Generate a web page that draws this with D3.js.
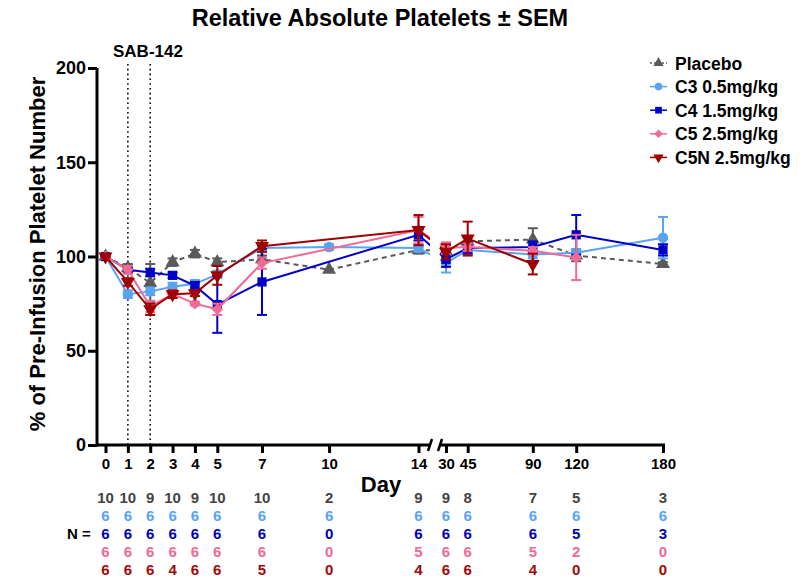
<!DOCTYPE html>
<html>
<head>
<meta charset="utf-8">
<script src="https://cdn.jsdelivr.net/npm/d3@7"></script>
<style>
  body { margin: 0; background: #fff; }
  svg text { font-family: "Liberation Sans", Arial, sans-serif; font-weight: bold; }
</style>
</head>
<body>
<div id="chart"></div>
<script>
// days sampled
let days = [0, 1, 2, 3, 4, 5, 7, 10, 14, 30, 45, 90, 120, 180];

let placebo    = [100, 94, 86, 97, 101.5, 97, 98.5, 93, 103.5, 103, 108, 109, 100.5, 96];
let placeboSem = [0.5, 2, 10, 2, 2, 2, 2, 0, 2, 3, 2, 6, 3, 1];
let c3    = [100, 80, 81.5, 84, 85.5, 90.5, 104.5, 105, 104.5, 96.5, 103.5, 101, 102, 110];
let c3Sem = [0.5, 2, 2, 2, 2, 2, 2, 1.5, 2, 5, 2, 2, 2, 11];
let c4    = [100, 93, 91.5, 90, 84.5, 74.5, 86.5, null, 111.5, 98.5, 104.5, 105, 111.5, 103.5];
let c4Sem = [1, 1.5, 2, 1.5, 2, 15, 17.5, null, 3, 4, 3, 3, 10.5, 3];
let c5    = [100, 93, 73.5, 80, 75, 72, 96.5, null, 114, 104.5, 105, 103, 99.5, null];
let c5Sem = [1, 2, 3, 2, 1, 3, 3, null, 7, 3, 2, 2, 12, null];
let c5n    = [100, 86.5, 72, 80, 80.5, 90, 105.5, null, 114, 102.5, 109.5, 96, null, null];
let c5nSem = [0.5, 2, 3, 2, 1.5, 5, 3, null, 8, 4, 9, 5.5, null, null];

let nPlacebo = [10, 10, 9, 10, 9, 10, 10, 2, 9, 9, 8, 7, 5, 3];
let nC3      = [6, 6, 6, 6, 6, 6, 6, 6, 6, 6, 6, 6, 6, 6];
let nC4      = [6, 6, 6, 6, 6, 6, 6, 0, 6, 6, 6, 6, 5, 3];
let nC5      = [6, 6, 6, 6, 6, 6, 6, 0, 5, 6, 6, 5, 2, 0];
let nC5N     = [6, 6, 6, 4, 6, 6, 5, 0, 4, 6, 6, 4, 0, 0];

let yTicks = [0, 50, 100, 150, 200];

let series = [
    { name: 'Placebo',      vals: placebo, sem: placeboSem, n: nPlacebo, color: '#5a5a5a', ncolor: '#444444', sym: d3.symbolTriangle, rot: 0,   dash: '5,4' },
    { name: 'C3 0.5mg/kg',  vals: c3,      sem: c3Sem,      n: nC3,      color: '#58a4f2', ncolor: '#58a4f2', sym: d3.symbolCircle,   rot: 0,   dash: null },
    { name: 'C4 1.5mg/kg',  vals: c4,      sem: c4Sem,      n: nC4,      color: '#0000c8', ncolor: '#0000b4', sym: d3.symbolSquare,   rot: 0,   dash: null },
    { name: 'C5 2.5mg/kg',  vals: c5,      sem: c5Sem,      n: nC5,      color: '#f06a94', ncolor: '#f06a94', sym: d3.symbolDiamond2, rot: 0, dash: null },
    { name: 'C5N 2.5mg/kg', vals: c5n,     sem: c5nSem,     n: nC5N,     color: '#a00000', ncolor: '#a00a0a', sym: d3.symbolTriangle, rot: 180, dash: null }
];

let W = 809, H = 579;
let svg = d3.select('#chart').append('svg').attr('width', W).attr('height', H);

// broken x axis: two segments
let x = d3.scaleLinear().domain([0, 14, 30, 180]).range([105.5, 418.5, 446, 663]);
let y = d3.scaleLinear().domain([0, 200]).range([445, 68]);
let seg1 = [97, 430], seg2 = [440, 665];

let defs = svg.append('defs');
defs.append('clipPath').attr('id', 'c1').append('rect')
    .attr('x', 0).attr('y', 0).attr('width', seg1[1]).attr('height', 460);
defs.append('clipPath').attr('id', 'c2').append('rect')
    .attr('x', seg2[0]).attr('y', 0).attr('width', W - seg2[0]).attr('height', 460);

// title
svg.append('text').attr('x', 380).attr('y', 26).attr('text-anchor', 'middle')
    .style('font-size', '23.5px').text('Relative Absolute Platelets \u00b1 SEM');

// SAB-142 dotted lines
svg.selectAll('.sab').data([1, 2]).enter().append('line')
    .attr('x1', d => x(d)).attr('x2', d => x(d))
    .attr('y1', 64).attr('y2', 445)
    .attr('stroke', '#000').attr('stroke-width', 1.6).attr('stroke-dasharray', '1.6,3.2');
svg.append('text').attr('x', 113).attr('y', 57)
    .style('font-size', '17px').text('SAB-142');

// y axis
let yAxis = svg.append('g').attr('transform', 'translate(97,0)')
    .call(d3.axisLeft(y).tickValues(yTicks).tickSize(9).tickPadding(2));
yAxis.select('.domain').attr('stroke-width', 3).attr('d', 'M0,' + y(200) + 'V' + 446.5);
yAxis.selectAll('.tick line').attr('stroke-width', 3);
yAxis.selectAll('.tick text').style('font-size', '18px').attr('fill', '#000')
    .style('font-family', '"Liberation Sans", Arial, sans-serif').style('font-weight', 'bold');

svg.append('text').attr('transform', 'translate(45,254) rotate(-90)').attr('text-anchor', 'middle')
    .style('font-size', '22px').text('% of Pre-Infusion Platelet Number');

// x axis segments
let xg = svg.append('g');
[seg1, seg2].forEach(s => {
    xg.append('line').attr('x1', s[0]).attr('x2', s[1]).attr('y1', 445).attr('y2', 445)
        .attr('stroke', '#000').attr('stroke-width', 3);
});
// break marks
[seg1[1], seg2[0]].forEach(bx => {
    xg.append('line').attr('x1', bx - 2).attr('x2', bx + 2).attr('y1', 451).attr('y2', 439)
        .attr('stroke', '#000').attr('stroke-width', 2.5);
});
let xAxis = svg.append('g').attr('transform', 'translate(0,445)')
    .call(d3.axisBottom(x).tickValues(days).tickFormat(d3.format('d')).tickSize(8).tickPadding(5));
xAxis.select('.domain').remove();
xAxis.selectAll('.tick line').attr('stroke-width', 3);
xAxis.selectAll('.tick text').style('font-size', '15px').attr('fill', '#000')
    .style('font-family', '"Liberation Sans", Arial, sans-serif').style('font-weight', 'bold');

svg.append('text').attr('x', 381).attr('y', 492).attr('text-anchor', 'middle')
    .style('font-size', '22px').text('Day');

// data
let line = d3.line().x(d => x(d.day)).y(d => y(d.v));

series.forEach(s => {
    let pts = days.map((d, i) => ({ day: d, v: s.vals[i], e: s.sem[i] })).filter(p => p.v !== null);
    ['c1', 'c2'].forEach(cid => {
        let g = svg.append('g').attr('clip-path', 'url(#' + cid + ')');
        g.append('path').datum(pts).attr('d', line).attr('fill', 'none')
            .attr('stroke', s.color).attr('stroke-width', 2)
            .attr('stroke-dasharray', s.dash);
    });
    let g = svg.append('g');
    let eb = g.selectAll('.eb').data(pts.filter(p => p.e > 0)).enter().append('g');
    eb.append('line').attr('x1', p => x(p.day)).attr('x2', p => x(p.day))
        .attr('y1', p => y(p.v - p.e)).attr('y2', p => y(p.v + p.e))
        .attr('stroke', s.color).attr('stroke-width', 2);
    eb.append('line').attr('x1', p => x(p.day) - 5).attr('x2', p => x(p.day) + 5)
        .attr('y1', p => y(p.v + p.e)).attr('y2', p => y(p.v + p.e))
        .attr('stroke', s.color).attr('stroke-width', 2);
    eb.append('line').attr('x1', p => x(p.day) - 5).attr('x2', p => x(p.day) + 5)
        .attr('y1', p => y(p.v - p.e)).attr('y2', p => y(p.v - p.e))
        .attr('stroke', s.color).attr('stroke-width', 2);
    g.selectAll('.pt').data(pts).enter().append('path')
        .attr('d', d3.symbol().type(s.sym).size(85))
        .attr('transform', p => 'translate(' + x(p.day) + ',' + y(p.v) + ') rotate(' + s.rot + ')')
        .attr('fill', s.color);
});

// legend
let lg = svg.append('g');
series.forEach((s, i) => {
    let ly = 63 + i * 23.6;
    lg.append('line').attr('x1', 650).attr('x2', 667).attr('y1', ly).attr('y2', ly)
        .attr('stroke', s.color).attr('stroke-width', 1.5).attr('stroke-dasharray', s.dash ? '2,2' : null);
    lg.append('path').attr('d', d3.symbol().type(s.sym).size(45))
        .attr('transform', 'translate(658.5,' + ly + ') rotate(' + s.rot + ')').attr('fill', s.color);
    lg.append('text').attr('x', 675).attr('y', ly + 6.5).style('font-size', '17.5px').text(s.name);
});

// N table
let tg = svg.append('g');
series.forEach((s, i) => {
    let ty = 503 + i * 18;
    tg.selectAll('.n' + i).data(days).enter().append('text')
        .attr('x', d => x(d)).attr('y', ty).attr('text-anchor', 'middle')
        .attr('fill', s.ncolor).style('font-size', '15px')
        .text((d, j) => s.n[j]);
});
tg.append('text').attr('x', 67).attr('y', 539).style('font-size', '15px').text('N =');
</script>
</body>
</html>
